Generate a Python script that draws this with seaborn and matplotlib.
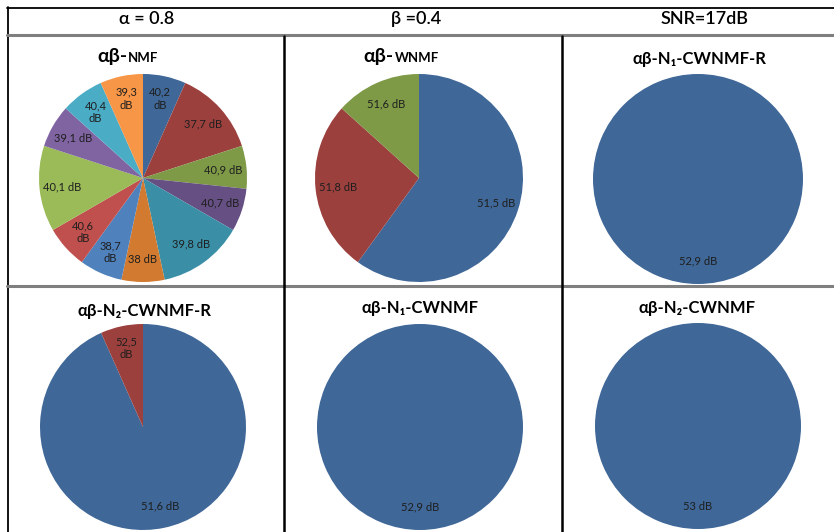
import matplotlib
matplotlib.use("Agg")
import matplotlib.pyplot as plt
from matplotlib.lines import Line2D
import seaborn as sns

# 各子圖資料 (扇形大小與標籤)
nmf_sizes = [1, 2, 1, 1, 2, 1, 1, 1, 2, 1, 1, 1]
nmf_labels = ["40,2\ndB", "37,7 dB", "40,9 dB", "40,7 dB", "39,8 dB", "38 dB",
              "38,7\ndB", "40,6\ndB", "40,1 dB", "39,1 dB", "40,4\ndB", "39,3\ndB"]
wnmf_sizes = [9, 4, 2]
wnmf_labels = ["51,5 dB", "51,8 dB", "51,6 dB"]
n1r_sizes = [15]
n1r_labels = ["52,9 dB"]
n2r_sizes = [14, 1]
n2r_labels = ["51,6 dB", "52,5\ndB"]
n1_sizes = [15]
n1_labels = ["52,9 dB"]
n2_sizes = [15]
n2_labels = ["53 dB"]

header_labels = ["α = 0.8", "β =0.4", "SNR=17dB"]

# Excel 風格配色：前六個較深，後六個為標準色
dark = ["#3f6797", "#9c403e", "#7e9a47", "#654f83", "#3a8fa6", "#d27b30"]
light = ["#4f81bd", "#c0504d", "#9bbb59", "#8064a2", "#4bacc6", "#f79646"]
colors = dark + light

sns.set_theme(style="white")
plt.rcParams["font.family"] = ["Lato", "DejaVu Sans"]

W, H = 834, 532
fig = plt.figure(figsize=(W / 100, H / 100), dpi=100)
fig.patch.set_facecolor("white")


def fx(x):
    return x / W


def fy(y):
    return 1 - y / H


def hline(y, x0, x1, color, lw):
    fig.add_artist(Line2D([fx(x0), fx(x1)], [fy(y), fy(y)], color=color, lw=lw,
                          transform=fig.transFigure))


def vline(x, y0, y1, color, lw):
    fig.add_artist(Line2D([fx(x), fx(x)], [fy(y0), fy(y1)], color=color, lw=lw,
                          transform=fig.transFigure))


# 表格框線
hline(7.5, 7, W, "black", 1.3)
vline(7.5, 7, H, "black", 1.3)
hline(35, 7, W, "#7f7f7f", 2.2)
hline(286, 7, W, "#7f7f7f", 2.2)
vline(284, 36, H, "black", 1.8)
vline(562, 36, H, "black", 1.8)

# 表頭
for x, t in zip([147, 416, 705], header_labels):
    fig.text(fx(x), fy(19), t, ha="center", va="center", fontsize=13,
             color="black", fontweight="semibold")


def draw_pie(cx, cy, r, sizes, labels):
    ax = fig.add_axes([fx(cx - r), fy(cy + r), 2 * r / W, 2 * r / H])
    wedges, texts = ax.pie(sizes, labels=labels, colors=colors[:len(sizes)],
                           startangle=90, counterclock=False, radius=1,
                           labeldistance=0.78,
                           wedgeprops=dict(linewidth=0),
                           textprops=dict(fontsize=8, color="#1e1e1e"))
    for t in texts:
        t.set_ha("center")
        t.set_va("center")
        t.set_multialignment("center")
    ax.set_xlim(-1, 1)
    ax.set_ylim(-1, 1)
    ax.set_aspect("equal")
    ax.axis("off")
    return ax


draw_pie(143, 178, 104, nmf_sizes, nmf_labels)
draw_pie(419, 178, 104, wnmf_sizes, wnmf_labels)
draw_pie(698, 179, 105, n1r_sizes, n1r_labels)
draw_pie(143, 427, 103, n2r_sizes, n2r_labels)
draw_pie(420, 427, 103, n1_sizes, n1_labels)
draw_pie(698, 426, 103, n2_sizes, n2_labels)

# 子圖標題 (前兩個有大小不同的字)
title_kw = dict(color="black", fontweight="bold", va="baseline")
fig.text(fx(127), fy(62), "αβ-", ha="right", fontsize=14, **title_kw)
fig.text(fx(128), fy(62), "NMF", ha="left", fontsize=9.5, **title_kw)
fig.text(fx(394), fy(62), "αβ-", ha="right", fontsize=14, **title_kw)
fig.text(fx(395), fy(62), "WNMF", ha="left", fontsize=9.5, **title_kw)
fig.text(fx(699), fy(64), "αβ-N₁-CWNMF-R", ha="center", fontsize=12, **title_kw)
fig.text(fx(144), fy(316), "αβ-N₂-CWNMF-R", ha="center", fontsize=12, **title_kw)
fig.text(fx(420), fy(313), "αβ-N₁-CWNMF", ha="center", fontsize=12, **title_kw)
fig.text(fx(697), fy(313), "αβ-N₂-CWNMF", ha="center", fontsize=12, **title_kw)

fig.savefig("out.png", dpi=100, facecolor="white")
